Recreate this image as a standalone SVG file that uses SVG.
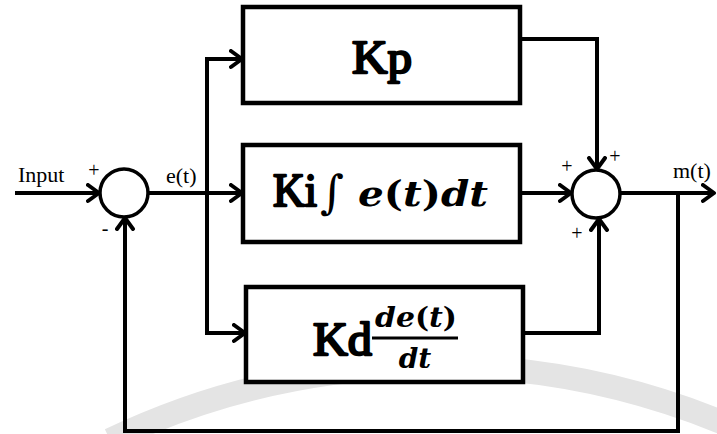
<svg xmlns="http://www.w3.org/2000/svg" width="717" height="434" viewBox="0 0 717 434">
  <style>
    .blk { fill: #ffffff; stroke: #000000; stroke-width: 4.5; }
    .sum { fill: #ffffff; stroke: #000000; stroke-width: 3.5; }
    .wire { fill: none; stroke: #000000; stroke-width: 4; stroke-linejoin: miter; }
    .lbl { font-family: "Liberation Serif", "Times New Roman", serif; font-size: 22px; fill: #000000; }
    .sgn { font-family: "Liberation Serif", "Times New Roman", serif; font-size: 20px; fill: #000000; }
    .gain { font-family: "Liberation Serif", "Times New Roman", serif; font-size: 46px; font-weight: normal; fill: #000000; stroke: #000000; stroke-width: 2.3; stroke-linejoin: round; }
    .math { font-family: "DejaVu Serif", "Liberation Serif", serif; font-weight: bold; font-style: italic; fill: #000000; }
    .up { font-style: normal; }
  </style>
  <defs>
    <marker id="arrow" markerUnits="userSpaceOnUse" markerWidth="20" markerHeight="22" refX="13" refY="10" orient="auto">
      <path d="M2,2 L13,10 L2,18" fill="none" stroke="#000000" stroke-width="4" stroke-linecap="round" stroke-linejoin="round"/>
    </marker>
  </defs>

  <rect width="717" height="434" fill="#ffffff"/>

  <!-- background logo arc -->
  <path d="M110,440 A757,757 0 0 1 740,430" fill="none" stroke="#e4e4e4" stroke-width="24"/>

  <g id="connectors">
    <line class="wire" x1="15" y1="193" x2="99" y2="193" marker-end="url(#arrow)"/>
    <line class="wire" x1="148" y1="193" x2="242" y2="193" marker-end="url(#arrow)"/>
    <line class="wire" x1="207" y1="57" x2="207" y2="335"/>
    <polyline class="wire" points="205,59 242,59" marker-end="url(#arrow)"/>
    <polyline class="wire" points="205,333 245,333" marker-end="url(#arrow)"/>
    <polyline class="wire" points="520,39 597,39 597,169" marker-end="url(#arrow)"/>
    <line class="wire" x1="520" y1="193" x2="571" y2="193" marker-end="url(#arrow)"/>
    <polyline class="wire" points="523,333 599,333 599,219" marker-end="url(#arrow)"/>
    <line class="wire" x1="620" y1="193" x2="714" y2="193" marker-end="url(#arrow)"/>
    <polyline class="wire" points="678,193 678,431 125,431 125,218" marker-end="url(#arrow)"/>
  </g>

  <g id="input-label">
    <text class="lbl" x="18" y="182">Input</text>
  </g>

  <g id="sum-error">
    <circle class="sum" cx="124" cy="193" r="24"/>
    <text class="sgn" x="94" y="177" text-anchor="middle">+</text>
    <text class="sgn" x="105" y="235" text-anchor="middle">-</text>
  </g>

  <g id="error-label">
    <text class="lbl" x="166" y="183">e(t)</text>
  </g>

  <g id="block-kp">
    <rect class="blk" x="243" y="7" width="277" height="96"/>
    <text class="gain" x="352" y="73" textLength="60" lengthAdjust="spacingAndGlyphs">Kp</text>
  </g>

  <g id="block-ki">
    <rect class="blk" x="243" y="145" width="277" height="97"/>
    <text class="gain" x="273" y="206" textLength="44" lengthAdjust="spacingAndGlyphs">Ki</text>
    <text x="320" y="208" font-family="DejaVu Serif, serif" font-size="46" fill="#000000">∫</text>
    <text class="math" x="358" y="206" font-size="36" textLength="130" lengthAdjust="spacingAndGlyphs">e<tspan class="up">(</tspan>t<tspan class="up">)</tspan>dt</text>
  </g>

  <g id="block-kd">
    <rect class="blk" x="246" y="287" width="277" height="95"/>
    <text class="gain" x="313" y="355" textLength="59" lengthAdjust="spacingAndGlyphs">Kd</text>
    <text class="math" x="375" y="327" font-size="28" textLength="82" lengthAdjust="spacingAndGlyphs">de<tspan class="up">(</tspan>t<tspan class="up">)</tspan></text>
    <line x1="372" y1="338" x2="458" y2="338" stroke="#000000" stroke-width="3"/>
    <text class="math" x="415" y="368" font-size="28" text-anchor="middle">dt</text>
  </g>

  <g id="sum-output">
    <circle class="sum" cx="596" cy="194" r="24"/>
    <text class="sgn" x="567" y="173" text-anchor="middle">+</text>
    <text class="sgn" x="615" y="163" text-anchor="middle">+</text>
    <text class="sgn" x="577" y="240" text-anchor="middle">+</text>
  </g>

  <g id="output-label">
    <text class="lbl" x="673" y="178">m(t)</text>
  </g>
</svg>
